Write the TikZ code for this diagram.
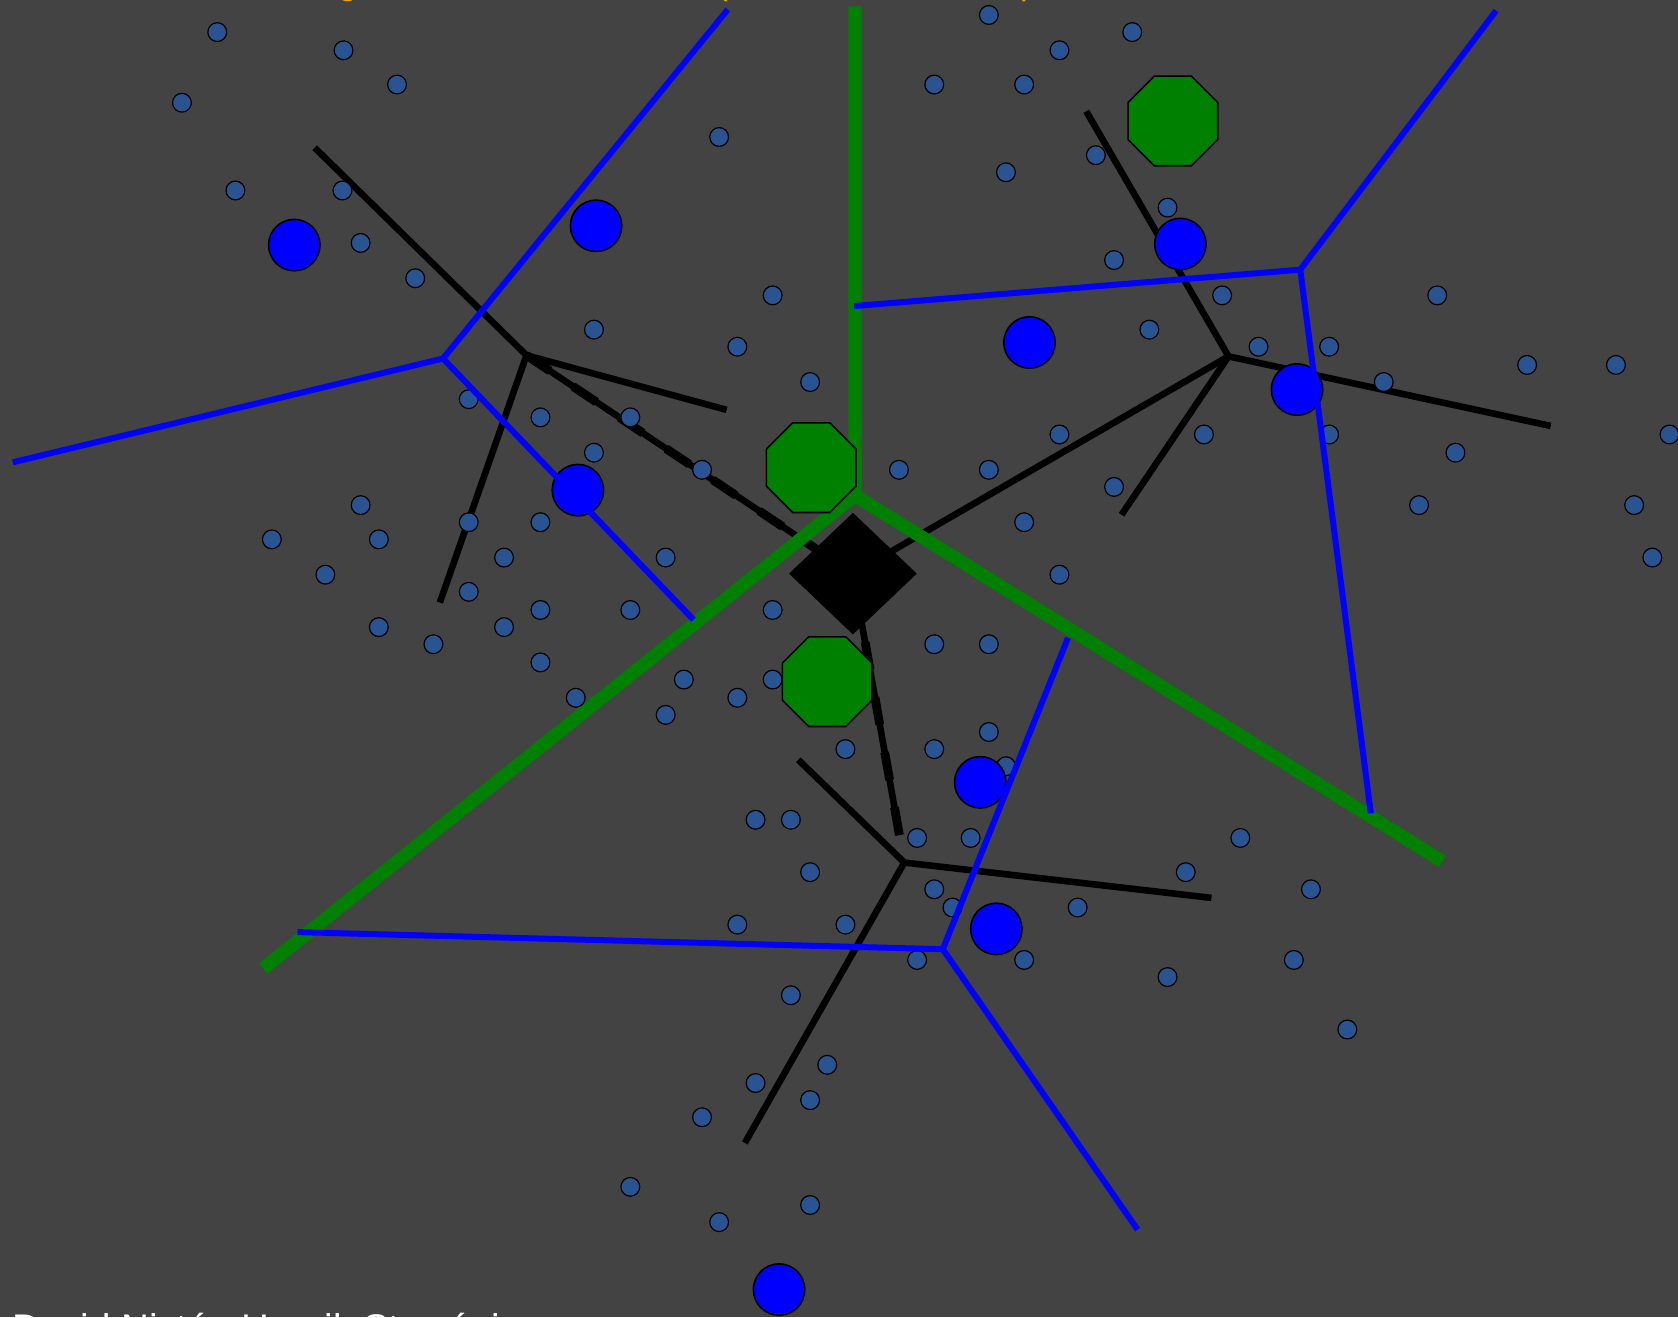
\documentclass[tikz,border=0pt]{standalone}
\usepackage{fontspec}
\setmainfont{Liberation Sans}
\usetikzlibrary{shapes.geometric}
\definecolor{bgc}{RGB}{67,67,67}
\definecolor{dotc}{RGB}{41,84,145}
\definecolor{grn}{RGB}{0,128,0}
\definecolor{blu}{RGB}{0,0,255}
\definecolor{ttl}{RGB}{235,170,0}
\begin{document}
\begin{tikzpicture}[x=0.5351pt,y=-0.5351pt,
  blackline/.style={line width=3.3pt, black},
  dashover/.style={line width=4.4pt, black, dash pattern=on 14pt off 14pt},
  greenline/.style={line width=6.6pt, grn},
  blueline/.style={line width=3pt, blu},
  dot/.style={circle, draw=black, line width=0.6pt, fill=dotc, minimum size=9.4pt, inner sep=0pt},
  bigdot/.style={circle, draw=black, line width=0.8pt, fill=blu, minimum size=25.7pt, inner sep=0pt},
  octo/.style={regular polygon, regular polygon sides=8, draw=black, line width=0.8pt, fill=grn, minimum size=48.5pt, inner sep=0pt},
  rootbox/.style={diamond, fill=black, minimum width=64pt, minimum height=61pt, inner sep=0pt},
  titletext/.style={text=ttl, font=\fontsize{17.66pt}{21pt}\selectfont, inner sep=0pt},
  authortext/.style={text=white, font=\fontsize{19.26pt}{23pt}\selectfont, inner sep=0pt}]
\useasboundingbox (0,0) rectangle (1568,1231);
\clip (0,0) rectangle (1568,1231);
\fill[bgc] (0,0) rectangle (1568,1231);

% texts (cut by the frame)
\node[titletext, anchor=base west] (title) at (216,-4.8) {Training: hierarchical k-means (branch factor k = 3)};
\node[authortext, anchor=base west] (authors) at (11,1254) {David Nistér, Henrik Stewénius};

% tree coordinates
\coordinate (Rc) at (797,536);
\coordinate (L) at (492,332);
\coordinate (L1) at (294,138);
\coordinate (L2) at (679,383);
\coordinate (L3) at (411,563);
\coordinate (T) at (1148,333);
\coordinate (T1) at (1015,104);
\coordinate (T2) at (1449,398);
\coordinate (T3) at (1048,481);
\coordinate (B) at (845,806);
\coordinate (B1) at (746,710);
\coordinate (B2) at (1132,839);
\coordinate (B3) at (696,1068);

% black tree lines
\draw[blackline] (L1) -- (L) -- (L2);
\draw[blackline] (L) -- (L3);
\draw[blackline] (L) -- (Rc);
\draw[dashover] (L) -- (Rc);
\draw[blackline] (T1) -- (T) -- (T2);
\draw[blackline] (T) -- (T3);
\draw[blackline] (T) -- (Rc);
\draw[blackline] (B1) -- (B) -- (B2);
\draw[blackline] (B) -- (B3);
\draw[blackline, shorten <=14pt] (B) -- (Rc);
\draw[dashover, shorten <=14pt] (B) -- (Rc);

% green lines
\coordinate (G) at (799,463);
\coordinate (Gt) at (799,6);
\coordinate (Gsw) at (246,905);
\coordinate (Gse) at (1348,805);
\draw[greenline, line join=miter] (Gt) -- (G) -- (Gsw);
\draw[greenline] (G) -- (Gse);

% small dots
\foreach \x/\y [count=\i] in {
203/30, 321/47, 371/79, 170/96, 220/178, 320/178, 337/227, 388/260, 672/128,
555/308, 722/276, 689/324, 757/357, 438/373, 505/390, 589/390, 555/423, 656/439,
337/472, 254/504, 354/504, 438/488, 505/488, 471/521, 622/521, 304/537, 438/553,
354/586, 405/602, 471/586, 505/570, 589/570, 505/619, 538/652, 622/668, 639/635,
689/652, 722/570, 722/635,
924/14, 990/47, 1058/30, 873/79, 957/79, 940/161, 1024/145, 1091/194, 1041/243,
1142/276, 1074/308, 1176/324, 1242/324, 1293/357, 1343/276, 1427/341, 1510/341,
1560/406, 1527/472, 1544/521, 1242/406, 1125/406, 1360/423, 1326/472, 990/406,
840/439, 924/439, 1041/455, 957/488, 990/537,
873/602, 924/602, 924/684, 873/700, 790/700, 940/716, 706/766, 739/766, 857/783,
907/783, 757/815, 873/831, 890/848, 1007/848, 1108/815, 1159/783, 1225/831,
689/864, 790/864, 857/897, 957/897, 1091/913, 1209/897, 1259/962, 739/930,
773/995, 706/1012, 757/1028, 656/1044, 589/1109, 672/1142, 757/1126}
  \node[dot] (d\i) at (\x,\y) {};

% big blue circles
\foreach \x/\y [count=\i] in {275/229, 557/211, 540/458, 962/320, 1103/228,
1212/364, 916/731, 931/868, 728/1205}
  \node[bigdot] (c\i) at (\x,\y) {};

% green octagons
\node[octo] (o1) at (1096,113) {};
\node[octo] (o2) at (758,437) {};
\node[octo] (o3) at (773,637) {};

% root diamond
\node[rootbox] (root) at (Rc) {};

% blue Voronoi lines
\coordinate (V1) at (414,335);
\coordinate (V1a) at (680,9);
\coordinate (V1b) at (12,432);
\coordinate (V1c) at (648,579);
\coordinate (V2) at (1215,252);
\coordinate (V2a) at (1398,10);
\coordinate (V2b) at (798,286);
\coordinate (V2c) at (1281,760);
\coordinate (V3) at (881,887);
\coordinate (V3a) at (998,596);
\coordinate (V3b) at (278,871);
\coordinate (V3c) at (1063,1149);
\draw[blueline] (V1a) -- (V1) -- (V1b);
\draw[blueline] (V1) -- (V1c);
\draw[blueline] (V2a) -- (V2) -- (V2b);
\draw[blueline] (V2) -- (V2c);
\draw[blueline] (V3a) -- (V3) -- (V3b);
\draw[blueline] (V3) -- (V3c);
\end{tikzpicture}
\end{document}
